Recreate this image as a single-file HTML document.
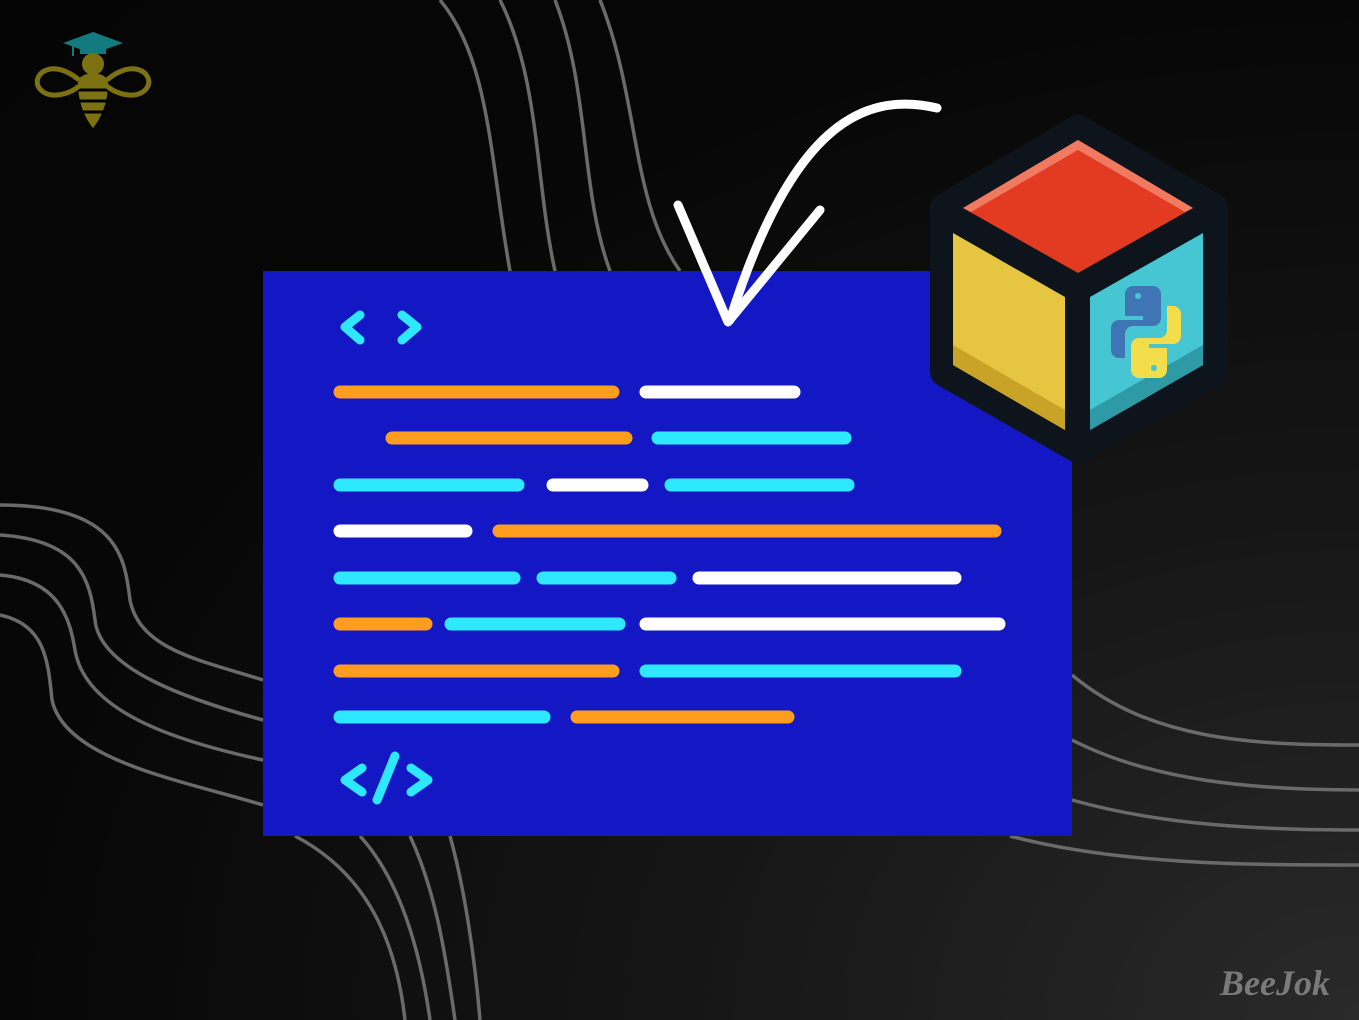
<!DOCTYPE html>
<html><head><meta charset="utf-8"><style>
html,body{margin:0;padding:0;}
body{width:1359px;height:1020px;overflow:hidden;background:radial-gradient(ellipse at 100% 100%,#2a2a2a 0%,#161616 35%,#070707 70%,#050505 100%);font-family:"Liberation Sans",sans-serif;}
svg{position:absolute;left:0;top:0;}
</style></head><body>
<svg width="1359" height="1020" viewBox="0 0 1359 1020">
<g fill="none" stroke="#6a6a6a" stroke-width="3.5">
<path d="M0,505 C120,505 125,560 130,600 C140,650 200,660 263,680"/>
<path d="M0,535 C80,540 90,580 95,620 C100,670 190,700 263,720"/>
<path d="M0,575 C60,580 70,620 75,650 C85,710 170,740 263,760"/>
<path d="M0,615 C45,625 48,660 52,700 C65,760 180,780 263,805"/>
<path d="M295,836 C360,870 395,930 405,1020"/>
<path d="M360,836 C400,880 420,950 430,1020"/>
<path d="M410,836 C435,890 445,950 455,1020"/>
<path d="M450,836 C465,890 475,960 480,1020"/>
<path d="M440,0 C490,60 490,160 510,271"/>
<path d="M500,0 C540,80 535,180 555,271"/>
<path d="M555,0 C590,90 580,190 610,271"/>
<path d="M600,0 C640,100 630,200 680,271"/>
<path d="M1072,675 C1150,740 1250,745 1359,745"/>
<path d="M1072,740 C1150,780 1250,790 1359,790"/>
<path d="M1072,800 C1160,825 1260,830 1359,830"/>
<path d="M1010,836 C1120,865 1250,865 1359,865"/>
</g>
<rect x="263" y="271" width="809" height="565" fill="#1418c4"/>
<g stroke-linecap="round" stroke-width="13">
<line x1="340" y1="392" x2="613" y2="392" stroke="#ff9d1e"/><line x1="646" y1="392" x2="794" y2="392" stroke="#fff"/>
<line x1="392" y1="438" x2="626" y2="438" stroke="#ff9d1e"/><line x1="658" y1="438" x2="845" y2="438" stroke="#2ee8ff"/>
<line x1="340" y1="485" x2="518" y2="485" stroke="#2ee8ff"/><line x1="553" y1="485" x2="642" y2="485" stroke="#fff"/><line x1="671" y1="485" x2="848" y2="485" stroke="#2ee8ff"/>
<line x1="340" y1="531" x2="466" y2="531" stroke="#fff"/><line x1="499" y1="531" x2="995" y2="531" stroke="#ff9d1e"/>
<line x1="340" y1="578" x2="514" y2="578" stroke="#2ee8ff"/><line x1="543" y1="578" x2="670" y2="578" stroke="#2ee8ff"/><line x1="699" y1="578" x2="955" y2="578" stroke="#fff"/>
<line x1="340" y1="624" x2="426" y2="624" stroke="#ff9d1e"/><line x1="451" y1="624" x2="619" y2="624" stroke="#2ee8ff"/><line x1="646" y1="624" x2="999" y2="624" stroke="#fff"/>
<line x1="340" y1="671" x2="613" y2="671" stroke="#ff9d1e"/><line x1="646" y1="671" x2="955" y2="671" stroke="#2ee8ff"/>
<line x1="340" y1="717" x2="544" y2="717" stroke="#2ee8ff"/><line x1="577" y1="717" x2="788" y2="717" stroke="#ff9d1e"/>
</g>
<g fill="none" stroke="#2ee8ff" stroke-width="9" stroke-linecap="round" stroke-linejoin="round">
<polyline points="360,315 345,327 360,340"/><polyline points="402,315 417,327 402,340"/>
<polyline points="362,768 345,780 362,792"/><line x1="395" y1="756" x2="377" y2="800"/><polyline points="411,768 428,780 411,792"/>
</g>
<path d="M937,108 C860,90 790,130 730,320" fill="none" stroke="#fff" stroke-width="9" stroke-linecap="round"/>
<polyline points="678,205 728,322 820,210" fill="none" stroke="#fff" stroke-width="9" stroke-linecap="round" stroke-linejoin="round"/>
<polygon points="1078,130 1213,208 1213,372 1078,448 945,372 945,208" fill="#0e141c" stroke="#0e141c" stroke-width="30" stroke-linejoin="round"/>
<polygon points="963,208 1078,140 1193,208 1078,273" fill="#e33a22"/>
<polygon points="963,208 1078,140 1193,208 1185,212 1078,150 971,212" fill="#f07a60"/>
<polygon points="953,233 1065,297 1065,430 953,365" fill="#e6c640"/>
<polygon points="953,345 1065,410 1065,430 953,365" fill="#c9a228"/>
<polygon points="1090,297 1203,233 1203,365 1090,430" fill="#46c6d2"/>
<polygon points="1090,410 1203,345 1203,365 1090,430" fill="#2e9aa6"/>
<path d="M1133,286 h20 a8,8 0 0 1 8,8 v24 a8,8 0 0 1 -8,8 h-20 a8,8 0 0 0 -8,8 v24 h-6 a8,8 0 0 1 -8,-8 v-22 a8,8 0 0 1 8,-8 h24 v-4 h-18 v-22 a8,8 0 0 1 8,-8z" fill="#3f74b5"/>
<path d="M1133,286 h20 a8,8 0 0 1 8,8 v24 a8,8 0 0 1 -8,8 h-20 a8,8 0 0 0 -8,8 v24 h-6 a8,8 0 0 1 -8,-8 v-22 a8,8 0 0 1 8,-8 h24 v-4 h-18 v-22 a8,8 0 0 1 8,-8z" fill="#f3dd4a" transform="rotate(180 1146 332)"/>
<circle cx="1138" cy="296" r="3" fill="#46c6d2"/><circle cx="1154" cy="368" r="3" fill="#46c6d2"/>
<g transform="translate(93,78)">
<path d="M-8,-35 L22,-46 L52,-35 L22,-24Z" transform="translate(-22,0)" fill="#137a7e"/>
<rect x="-13" y="-36" width="26" height="12" fill="#137a7e"/>
<line x1="-20" y1="-35" x2="-20" y2="-22" stroke="#137a7e" stroke-width="2"/>
<circle cx="0" cy="-14" r="11" fill="#7d7212"/>
<path d="M-15,5 C-15,-8 15,-8 15,5 C15,25 8,40 0,50 C-8,40 -15,25 -15,5Z" fill="#7d7212"/>
<g stroke="#000" stroke-width="3"><line x1="-16" y1="12" x2="16" y2="12"/><line x1="-15" y1="23" x2="15" y2="23"/><line x1="-12" y1="34" x2="12" y2="34"/></g>
<g fill="none" stroke="#7d7212" stroke-width="5"><path d="M-14,2 C-40,-20 -60,-5 -55,8 C-48,22 -25,18 -14,8"/><path d="M14,2 C40,-20 60,-5 55,8 C48,22 25,18 14,8"/></g>
</g>
<text x="1220" y="995" font-family="'Liberation Serif',serif" font-style="italic" font-weight="bold" font-size="36" fill="#7a7a7a">BeeJok</text>
</svg>
</body></html>
